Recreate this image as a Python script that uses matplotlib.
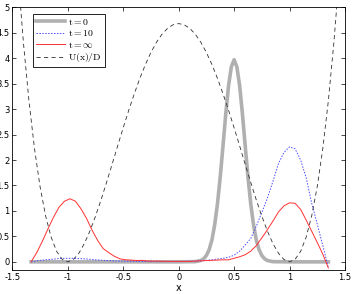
import numpy as np
import matplotlib
matplotlib.use("Agg")
import matplotlib.pyplot as plt

# t = 0 : narrow peak at x = 0.5
x_t0 = [-1.33, 0.0, 0.15, 0.2, 0.225, 0.25, 0.275, 0.3, 0.325, 0.35, 0.375, 0.4,
        0.425, 0.45, 0.475, 0.5, 0.525, 0.55, 0.575, 0.6, 0.625, 0.65, 0.675,
        0.7, 0.725, 0.75, 0.775, 0.8, 0.85, 1.0, 1.35]
y_t0 = [0.0, 0.0, 0.004, 0.027, 0.06, 0.125, 0.24, 0.43, 0.73, 1.14, 1.67, 2.28,
        2.91, 3.46, 3.83, 3.97, 3.83, 3.46, 2.91, 2.28, 1.67, 1.14, 0.73,
        0.43, 0.24, 0.125, 0.06, 0.027, 0.004, 0.0, 0.0]

# t = 10
x_t10 = [-1.33, -1.25, -1.15, -1.05, -0.95, -0.85, -0.75, -0.6, -0.4, -0.2, 0.0,
         0.1, 0.2, 0.3, 0.4, 0.45, 0.5, 0.55, 0.6, 0.65, 0.7, 0.75, 0.8, 0.85,
         0.9, 0.95, 1.0, 1.05, 1.1, 1.15, 1.2, 1.25, 1.3, 1.35]
y_t10 = [0.0, 0.03, 0.05, 0.07, 0.07, 0.06, 0.04, 0.02, 0.01, 0.005, 0.005,
         0.01, 0.02, 0.04, 0.07, 0.09, 0.13, 0.21, 0.33, 0.46, 0.70, 0.97, 1.25, 1.58,
         1.93, 2.15, 2.26, 2.22, 2.0, 1.65, 1.15, 0.74, 0.32, -0.12]

# t = infinity
x_inf = [-1.33, -1.28, -1.23, -1.18, -1.13, -1.08, -1.03, -0.98, -0.93, -0.88,
         -0.83, -0.78, -0.73, -0.68, -0.63, -0.58, -0.53, -0.48, -0.43, -0.38,
         -0.33, -0.28, -0.2, -0.1, 0.0, 0.1, 0.2, 0.3, 0.4, 0.45, 0.5, 0.55, 0.6,
         0.65, 0.7, 0.75, 0.8, 0.85, 0.9, 0.95, 1.0, 1.05, 1.1, 1.15, 1.2, 1.25,
         1.3, 1.35]
y_inf = [0.0, 0.18, 0.40, 0.64, 0.87, 1.07, 1.19, 1.24, 1.19, 1.04,
         0.85, 0.62, 0.42, 0.26, 0.18, 0.11, 0.06, 0.04, 0.035, 0.025,
         0.03, 0.015, 0.015, 0.01, 0.01, 0.01, 0.02, 0.03, 0.04, 0.04, 0.07, 0.10, 0.14,
         0.21, 0.32, 0.47, 0.63, 0.80, 0.98, 1.10, 1.16, 1.15, 1.03, 0.82, 0.60, 0.38,
         0.15, -0.12]

# potential U(x)/D
x_U = np.linspace(-1.5, 1.5, 61)
y_U = [7.31, 5.689, 4.313, 3.166, 2.228, 1.481, 0.906, 0.487, 0.206, 0.049, 0.0,
       0.0445, 0.169, 0.360, 0.607, 0.896, 1.217, 1.561, 1.917, 2.277, 2.633,
       2.977, 3.302, 3.604, 3.876, 4.113, 4.313, 4.472, 4.587, 4.657, 4.68,
       4.657, 4.587, 4.472, 4.313, 4.113, 3.876, 3.604, 3.302, 2.977, 2.633,
       2.277, 1.917, 1.561, 1.217, 0.896, 0.607, 0.360, 0.169, 0.0445, 0.0,
       0.049, 0.206, 0.487, 0.906, 1.481, 2.228, 3.166, 4.313, 5.689, 7.31]

plt.rcParams['axes.unicode_minus'] = False
plt.rcParams['mathtext.fontset'] = 'cm'

fig = plt.figure(figsize=(3.53, 2.94), dpi=100)
ax = fig.add_axes([12.3 / 353, 24 / 294, 332.7 / 353, 262.7 / 294])

ax.plot(x_t0, y_t0, color='#b0b0b0', lw=2.6, label=r'$\mathrm{t{=}0}$')
ax.plot(x_t10, y_t10, color='#4b4bff', ls=(0, (1.5, 1.5)), lw=0.7, label=r'$\mathrm{t{=}10}$')
ax.plot(x_inf, y_inf, color='#ff3030', lw=0.7, label=r'$\mathrm{t{=}\infty}$')
ax.plot(x_U, y_U, color='#303030', ls=(0, (5, 4)), lw=0.6, label=r'$\mathrm{U(x)/D}$')

ax.set_xlim(-1.5, 1.5)
ax.set_ylim(-0.16, 5)
ax.set_xticks([-1.5, -1, -0.5, 0, 0.5, 1, 1.5])
ax.set_xticklabels(['-1.5', '-1', '-0.5', '0', '0.5', '1', '1.5'])
ax.set_yticks([0, 0.5, 1, 1.5, 2, 2.5, 3, 3.5, 4, 4.5, 5])
ax.set_yticklabels(['0', '0.5', '1', '1.5', '2', '2.5', '3', '3.5', '4', '4.5', '5'])
ax.tick_params(direction='in', length=3, width=0.5, labelsize=6, pad=2,
               top=True, right=True)
for s in ax.spines.values():
    s.set_linewidth(0.6)
ax.set_xlabel('x', fontsize=7, labelpad=1)

leg = ax.legend(loc='upper left', bbox_to_anchor=(0.063, 0.975), fontsize=7,
                fancybox=False, framealpha=1, edgecolor='black',
                handlelength=3, handletextpad=0.3, borderpad=0.3,
                labelspacing=0.15, borderaxespad=0)
leg.get_frame().set_linewidth(0.6)

fig.savefig('out.png', dpi=100)
